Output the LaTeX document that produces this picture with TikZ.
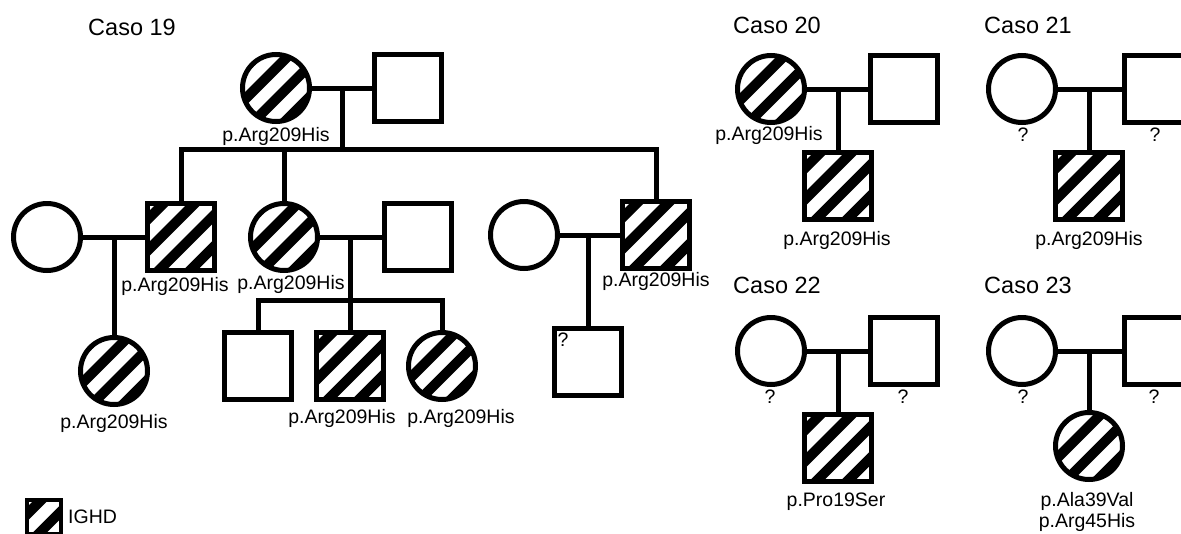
\documentclass[tikz,border=0pt]{standalone}
\usepackage{fontspec}
\setmainfont{Liberation Sans}
\usetikzlibrary{calc}
\tikzset{
 ind/.style={draw, line width=5pt, minimum size=67pt, inner sep=0pt, fill=white},
 male/.style={ind, rectangle},
 female/.style={ind, circle},
 aff/.style={path picture={
   \foreach \k in {-4,...,4}{
     \draw[line width=10pt, line cap=butt]
       ($(path picture bounding box.center)+(\k*15.556+5.657,\k*15.556+5.657)+(-70,70)$) --
       ($(path picture bounding box.center)+(\k*15.556+5.657,\k*15.556+5.657)+(70,-70)$);
   }}},
 rel/.style={line width=5pt, line join=miter},
 lab/.style={font=\fontsize{19.5}{25}\selectfont, inner sep=0pt},
 ttl/.style={font=\fontsize{23.5}{28}\selectfont, inner sep=0pt},
}
\begin{document}
\begin{tikzpicture}[x=1pt,y=-1pt]
\useasboundingbox (0,0) rectangle (1181,533);
\clip (0,0) rectangle (1181,533);
% ---------------- Caso 19 ----------------
\node[ttl] (t19) at (132,27) {Caso 19};
\node[female,aff] (gm) at (276,88) {};
\node[male] (gf) at (408,88) {};
\draw[rel] (gm) -- (gf);
\coordinate (m1) at (342,88);
\coordinate (s1) at (342,149);
\node[male,aff] (c1) at (181,237) {};
\node[female,aff] (c2) at (284,237) {};
\node[male,aff] (c3) at (656,235) {};
\draw[rel] (m1) -- (s1);
\draw[rel] (c1.north) |- (s1) -| (c3.north);
\draw[rel] (c2.north) -- (c2.north |- s1);
\node[lab] (lgm) at (276,136) {p.Arg209His};
% left branch
\node[female] (sp1) at (47,237) {};
\draw[rel] (sp1) -- (c1);
\coordinate (m2) at (114,237);
\node[female,aff] (gc1) at (114,371) {};
\draw[rel] (m2) -- (gc1.north);
\node[lab] (lc1) at (175,286) {p.Arg209His};
\node[lab] (lgc1) at (114,423) {p.Arg209His};
% middle branch
\node[male] (h2) at (418,237) {};
\draw[rel] (c2) -- (h2);
\coordinate (m3) at (350,237);
\coordinate (s3) at (350,300);
\node[male] (gc2) at (258,366) {};
\node[male,aff] (gc3) at (350,366) {};
\node[female,aff] (gc4) at (442,366) {};
\draw[rel] (m3) -- (gc3.north);
\draw[rel] (gc2.north) |- (s3) -| (gc4.north);
\node[lab] (lc2) at (291,284) {p.Arg209His};
\node[lab] (lgc3) at (342,418) {p.Arg209His};
\node[lab] (lgc4) at (461,418) {p.Arg209His};
% right branch
\node[female] (sp3) at (524,235) {};
\draw[rel] (sp3) -- (c3);
\coordinate (m4) at (588,235);
\node[male] (gc5) at (588,362) {};
\draw[rel] (m4) -- (gc5.north);
\node[lab] (q5) at (563,340) {?};
\node[lab] (lc3) at (656,281) {p.Arg209His};
% ---------------- Caso 20 ----------------
\node[ttl] (t20) at (777,25) {Caso 20};
\node[female,aff] (a20m) at (771,89) {};
\node[male] (a20f) at (904,89) {};
\draw[rel] (a20m) -- (a20f);
\coordinate (m20) at (838,89);
\node[male,aff] (a20c) at (838,186) {};
\draw[rel] (m20) -- (a20c.north);
\node[lab] (l20m) at (769,135) {p.Arg209His};
\node[lab] (l20c) at (837,240) {p.Arg209His};
% ---------------- Caso 21 ----------------
\node[ttl] (t21) at (1028,25) {Caso 21};
\node[female] (a21m) at (1022,89) {};
\node[male] (a21f) at (1158,89) {};
\draw[rel] (a21m) -- (a21f);
\coordinate (m21) at (1089,89);
\node[male,aff] (a21c) at (1089,186) {};
\draw[rel] (m21) -- (a21c.north);
\node[lab] (q21m) at (1023,135) {?};
\node[lab] (q21f) at (1155,135) {?};
\node[lab] (l21c) at (1089,240) {p.Arg209His};
% ---------------- Caso 22 ----------------
\node[ttl] (t22) at (777,285) {Caso 22};
\node[female] (a22m) at (771,351) {};
\node[male] (a22f) at (904,351) {};
\draw[rel] (a22m) -- (a22f);
\coordinate (m22) at (838,351);
\node[male,aff] (a22c) at (838,448) {};
\draw[rel] (m22) -- (a22c.north);
\node[lab] (q22m) at (770,397) {?};
\node[lab] (q22f) at (903,397) {?};
\node[lab] (l22c) at (836,502) {p.Pro19Ser};
% ---------------- Caso 23 ----------------
\node[ttl] (t23) at (1028,285) {Caso 23};
\node[female] (a23m) at (1022,351) {};
\node[male] (a23f) at (1158,351) {};
\draw[rel] (a23m) -- (a23f);
\coordinate (m23) at (1089,351);
\node[female,aff] (a23c) at (1089,446) {};
\draw[rel] (m23) -- (a23c.north);
\node[lab] (q23m) at (1023,397) {?};
\node[lab] (q23f) at (1154,397) {?};
\node[lab] (l23a) at (1087,501) {p.Ala39Val};
\node[lab] (l23b) at (1087,522) {p.Arg45His};
% ---------------- Legend ----------------
\node[male,aff,minimum size=34pt,line width=4pt] (lg) at (44,517) {};
\node[lab,anchor=west] (lgt) at (68,517) {IGHD};
\end{tikzpicture}
\end{document}
